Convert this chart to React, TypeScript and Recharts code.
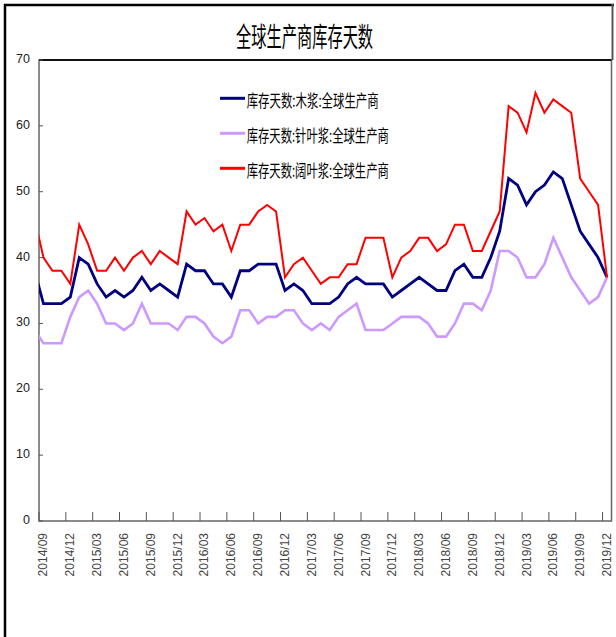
import React from 'react';
import { LineChart, Line, XAxis, YAxis, Legend, ReferenceArea, ReferenceLine } from 'recharts';

// Months: the first entry (2014/08) is only partly visible at the left edge
const months: string[] = [
  '2014/08', '2014/09', '2014/10', '2014/11', '2014/12',
  '2015/01', '2015/02', '2015/03', '2015/04', '2015/05', '2015/06', '2015/07', '2015/08', '2015/09', '2015/10', '2015/11', '2015/12',
  '2016/01', '2016/02', '2016/03', '2016/04', '2016/05', '2016/06', '2016/07', '2016/08', '2016/09', '2016/10', '2016/11', '2016/12',
  '2017/01', '2017/02', '2017/03', '2017/04', '2017/05', '2017/06', '2017/07', '2017/08', '2017/09', '2017/10', '2017/11', '2017/12',
  '2018/01', '2018/02', '2018/03', '2018/04', '2018/05', '2018/06', '2018/07', '2018/08', '2018/09', '2018/10', '2018/11', '2018/12',
  '2019/01', '2019/02', '2019/03', '2019/04', '2019/05', '2019/06', '2019/07', '2019/08', '2019/09', '2019/10', '2019/11', '2019/12',
];

const tickLabels: string[] = [
  '2014/09', '2014/12', '2015/03', '2015/06', '2015/09', '2015/12', '2016/03', '2016/06', '2016/09', '2016/12', '2017/03',
  '2017/06', '2017/09', '2017/12', '2018/03', '2018/06', '2018/09', '2018/12', '2019/03', '2019/06', '2019/09', '2019/12',
];

const yTicks: number[] = [0, 10, 20, 30, 40, 50, 60, 70];

const woodPulp: number[] = [
  38,
  33, 33, 33, 34,
  40, 39, 36, 34, 35, 34, 35, 37, 35, 36, 35, 34,
  39, 38, 38, 36, 36, 34, 38, 38, 39, 39, 39, 35,
  36, 35, 33, 33, 33, 34, 36, 37, 36, 36, 36, 34,
  35, 36, 37, 36, 35, 35, 38, 39, 37, 37, 40, 44,
  52, 51, 48, 50, 51, 53, 52, 48, 44, 42, 40, 37,
];

const softwood: number[] = [
  29,
  27, 27, 27, 31,
  34, 35, 33, 30, 30, 29, 30, 33, 30, 30, 30, 29,
  31, 31, 30, 28, 27, 28, 32, 32, 30, 31, 31, 32,
  32, 30, 29, 30, 29, 31, 32, 33, 29, 29, 29, 30,
  31, 31, 31, 30, 28, 28, 30, 33, 33, 32, 35, 41,
  41, 40, 37, 37, 39, 43, 40, 37, 35, 33, 34, 37,
];

const hardwood: number[] = [
  46,
  40, 38, 38, 36,
  45, 42, 38, 38, 40, 38, 40, 41, 39, 41, 40, 39,
  47, 45, 46, 44, 45, 41, 45, 45, 47, 48, 47, 37,
  39, 40, 38, 36, 37, 37, 39, 39, 43, 43, 43, 37,
  40, 41, 43, 43, 41, 42, 45, 45, 41, 41, 44, 47,
  63, 62, 59, 65, 62, 64, 63, 62, 52, 50, 48, 37,
];

const seriesNames: string[] = [
  '库存天数:木浆:全球生产商',
  '库存天数:针叶浆:全球生产商',
  '库存天数:阔叶浆:全球生产商',
];
const seriesColors: string[] = ['#000080', '#CC99FF', '#FF0000'];

const rows = months.map((m, k) => ({
  i: k - 1,
  month: m,
  wood: woodPulp[k],
  soft: softwood[k],
  hard: hardwood[k],
}));

const tickIdx = tickLabels.map((t) => months.indexOf(t) - 1);

const W = 616;
const H = 637;
const MARGIN = { top: 60, right: 4.5, bottom: 56, left: 0 };
const Y_AXIS_W = 39;
const X_AXIS_H = 60;
const PLOT_LEFT = MARGIN.left + Y_AXIS_W;
const PLOT_W = W - PLOT_LEFT - MARGIN.right;
const N_CAT = months.length - 1;
const X_TICK_MARGIN = 12;
const Y_TICK_MARGIN = 9;

const XTick = (props: any) => {
  const { x, y, payload } = props;
  const half = PLOT_W / N_CAT / 2;
  const axisY = y - X_TICK_MARGIN;
  const label = months[payload.value + 1];
  return (
    <g>
      <line x1={x - half} x2={x - half} y1={axisY} y2={axisY - 9} stroke="#555" strokeWidth={1} />
      <text
        x={x}
        y={y}
        transform={`rotate(-90 ${x} ${y})`}
        textAnchor="end"
        dominantBaseline="central"
        fontSize={12}
        fill="#444"
        fontFamily="'Liberation Sans', Arial, sans-serif"
      >
        {label}
      </text>
    </g>
  );
};

const YTick = (props: any) => {
  const { x, y, payload } = props;
  const axisX = x + Y_TICK_MARGIN;
  return (
    <g>
      <line x1={axisX} x2={axisX + 4} y1={y} y2={y} stroke="#555" strokeWidth={1} />
      <text
        x={x}
        y={y}
        dy={-1}
        textAnchor="end"
        dominantBaseline="central"
        fontSize={12.5}
        fill="#222"
        fontFamily="'Liberation Sans Narrow', 'Liberation Sans', Arial, sans-serif"
      >
        {payload.value}
      </text>
    </g>
  );
};

const LegendContent = (props: any) => {
  const payload = props.payload || [];
  return (
    <svg width={390} height={105} style={{ display: 'block', overflow: 'visible' }}>
      {payload.map((p: any, k: number) => {
        const cy = 18.3 + k * 35;
        const label = String(p.value);
        return (
          <g key={label}>
            <line x1={8} x2={33} y1={cy} y2={cy} stroke={p.color} strokeWidth={3} />
            <text
              x={34.7}
              y={cy + 8.3}
              fontSize={17}
              fill="#000"
              textLength={label.length * 10.15}
              lengthAdjust="spacingAndGlyphs"
              fontFamily="'Noto Sans CJK SC', sans-serif"
            >
              {label}
            </text>
          </g>
        );
      })}
    </svg>
  );
};

export default function App() {
  return (
    <div style={{ position: 'absolute', left: 0, top: 0, width: W, height: H, background: '#fff' }}>
      <LineChart width={W} height={H} data={rows} margin={MARGIN}>
        <XAxis
          type="number"
          dataKey="i"
          domain={[-0.5, N_CAT - 0.5]}
          allowDataOverflow
          ticks={tickIdx}
          interval={0}
          height={X_AXIS_H}
          tickLine={false}
          axisLine={false}
          tickSize={0}
          tickMargin={X_TICK_MARGIN}
          tick={<XTick />}
        />
        <YAxis
          type="number"
          domain={[0, 70]}
          ticks={yTicks}
          interval={0}
          width={Y_AXIS_W}
          tickLine={false}
          axisLine={false}
          tickSize={0}
          tickMargin={Y_TICK_MARGIN}
          tick={<YTick />}
        />
        <ReferenceArea x1={-0.5} x2={N_CAT - 0.5} y1={0} y2={70} fill="none" stroke="#666" strokeWidth={1.5} ifOverflow="visible" />
        <ReferenceLine y={70} stroke="#111" strokeWidth={2} ifOverflow="visible" />
        <Legend
          layout="vertical"
          align="center"
          verticalAlign="middle"
          wrapperStyle={{ left: 212, top: 80, width: 390, height: 105 }}
          content={<LegendContent />}
        />
        <Line type="linear" dataKey="wood" name={seriesNames[0]} stroke={seriesColors[0]} strokeWidth={2.8} dot={false} activeDot={false} isAnimationActive={false} />
        <Line type="linear" dataKey="soft" name={seriesNames[1]} stroke={seriesColors[1]} strokeWidth={2.6} dot={false} activeDot={false} isAnimationActive={false} />
        <Line type="linear" dataKey="hard" name={seriesNames[2]} stroke={seriesColors[2]} strokeWidth={2} dot={false} activeDot={false} isAnimationActive={false} />
      </LineChart>
      <svg width={W} height={H} style={{ position: 'absolute', left: 0, top: 0, pointerEvents: 'none' }}>
        <line x1={5} x2={5} y1={4} y2={H} stroke="#000" strokeWidth={2.5} />
        <line x1={4} x2={614} y1={5} y2={5} stroke="#000" strokeWidth={2.5} />
        <line x1={612.5} x2={612.5} y1={4} y2={60} stroke="#555" strokeWidth={2} />
        <text
          x={304.6}
          y={47}
          textAnchor="middle"
          fontSize={27}
          textLength={137}
          lengthAdjust="spacingAndGlyphs"
          fill="#000"
          fontFamily="'Noto Sans CJK SC', sans-serif"
        >
          全球生产商库存天数
        </text>
      </svg>
    </div>
  );
}
